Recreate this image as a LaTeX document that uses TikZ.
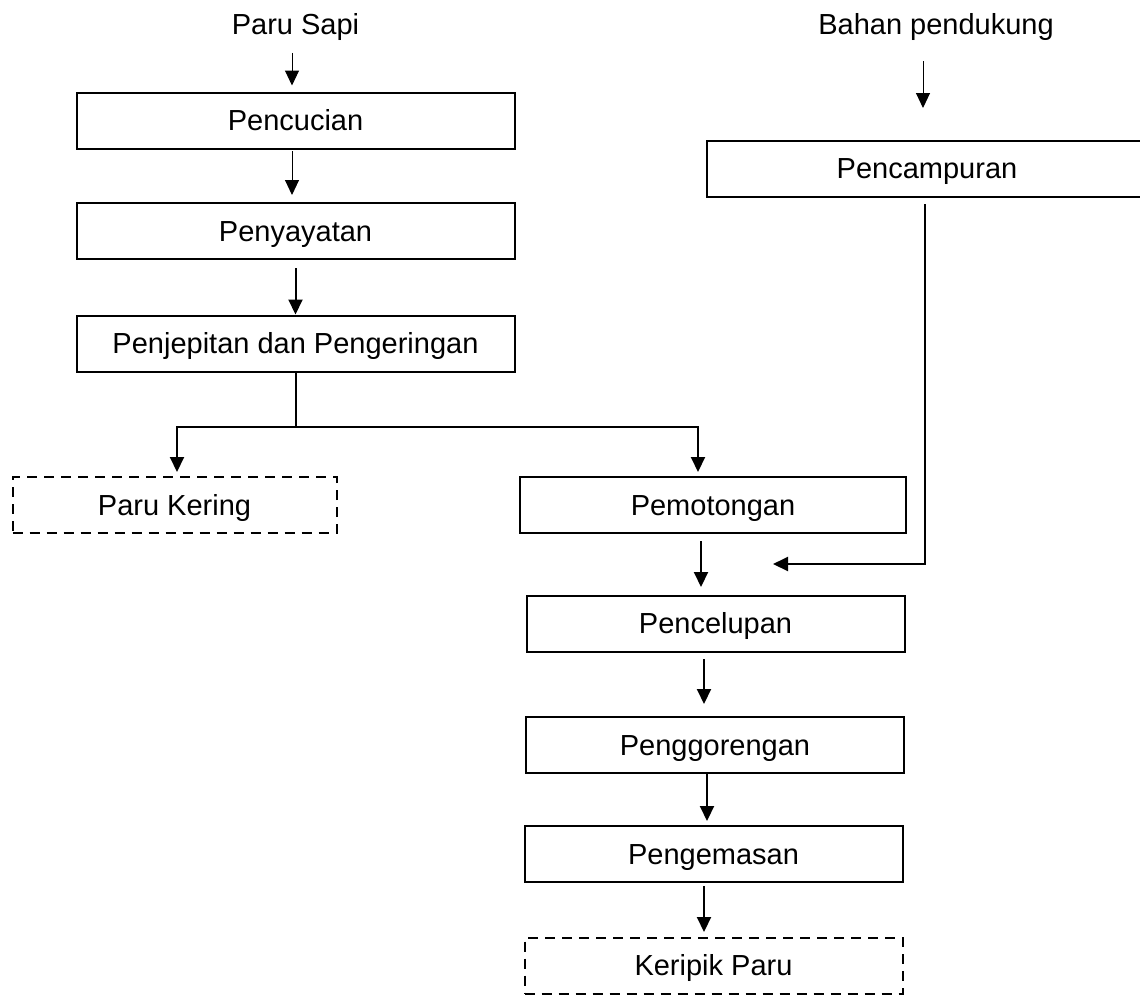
\documentclass[tikz,border=0pt]{standalone}
\usepackage{fontspec}
\setmainfont{Liberation Sans}
\usetikzlibrary{arrows.meta}

\begin{document}
\begin{tikzpicture}[x=0.5pt,y=-0.5pt,font=\fontsize{14.5}{17}\selectfont,
  kotak/.style={draw,line width=1pt,minimum height=28pt,inner sep=0pt,text height=10.4pt,text depth=0pt},
  hasil/.style={kotak,dash pattern=on 5pt off 3.5pt},
  panah/.style={-{Triangle[width=7pt,length=7.5pt]},line width=1pt},
  panahtipis/.style={panah,line width=0.5pt},
  label/.style={inner sep=0pt}]
\useasboundingbox (0,0) rectangle (1140,997);
%\draw[help lines,yellow,thin] (0,0) grid[step=50] (1140,997);
\node [label] (sapi) at (295.5,27){Paru Sapi};
\node [label] (bahan) at (936,27){Bahan pendukung};
\node [kotak,minimum width=219pt] (cuci) at (295.5,120.5){Pencucian};
\node [kotak,minimum width=219pt] (sayat) at (295.5,231){Penyayatan};
\node [kotak,minimum width=219pt] (jepit) at (295.5,343.5){Penjepitan dan Pengeringan};
\node [hasil,minimum width=162pt] (kering) at (174.5,505){Paru Kering};
\node [kotak,minimum width=193pt] (potong) at (713,505){Pemotongan};
\node [kotak,minimum width=220pt] (campur) at (927,168.5){Pencampuran};
\node [kotak,minimum width=189pt] (celup) at (715.5,623.5){Pencelupan};
\node [kotak,minimum width=189pt] (goreng) at (715,745){Penggorengan};
\node [kotak,minimum width=189pt] (kemas) at (713.5,854){Pengemasan};
\node [hasil,minimum width=189pt] (keripik) at (713.5,965.5){Keripik Paru};
\coordinate (masuk) at (773,564);
% jalur kiri
\draw [panahtipis,shorten <=6pt,shorten >=3pt] ([xshift=-1.75pt]sapi.south) -- ([xshift=-1.75pt]cuci.north);
\draw [panahtipis,shorten <=0.75pt,shorten >=3.5pt] ([xshift=-1.75pt]cuci.south) -- ([xshift=-1.75pt]sayat.north);
\draw [panah,shorten <=4pt] (sayat.south) -- (jepit.south |- jepit.north);
\draw [line width=1pt] (jepit.south) -- ++(0,54.5) coordinate (cabang);
\draw [panah,shorten >=2pt] (cabang) -| ([xshift=1.25pt]kering.north);
\draw [panah,shorten >=2pt] (cabang) -| ([xshift=-7.5pt]potong.north);
% bahan pendukung
\draw [panahtipis,shorten <=10.25pt,shorten >=15.75pt] ([xshift=-2pt]bahan.south -| campur.north) -- ([xshift=-2pt]campur.north);
\draw [panah,shorten <=3.25pt] ([xshift=-1pt]campur.south) |- (masuk);
% jalur kanan
\draw [panah,shorten <=3.5pt,shorten >=3.75pt] ([xshift=-6pt]potong.south) -- ([xshift=-6pt]celup.north -| potong.south);
\draw [panah,shorten <=3.25pt,shorten >=6pt] ([xshift=-5.75pt]celup.south) -- ([xshift=-5.75pt]goreng.north -| celup.south);
\draw [panah,shorten >=2pt] ([xshift=-4pt]goreng.south) -- ([xshift=-4pt]kemas.north -| goreng.south);
\draw [panah,shorten <=1.5pt,shorten >=2.25pt] ([xshift=-4.75pt]kemas.south) -- ([xshift=-4.75pt]keripik.north);
\end{tikzpicture}
\end{document}
